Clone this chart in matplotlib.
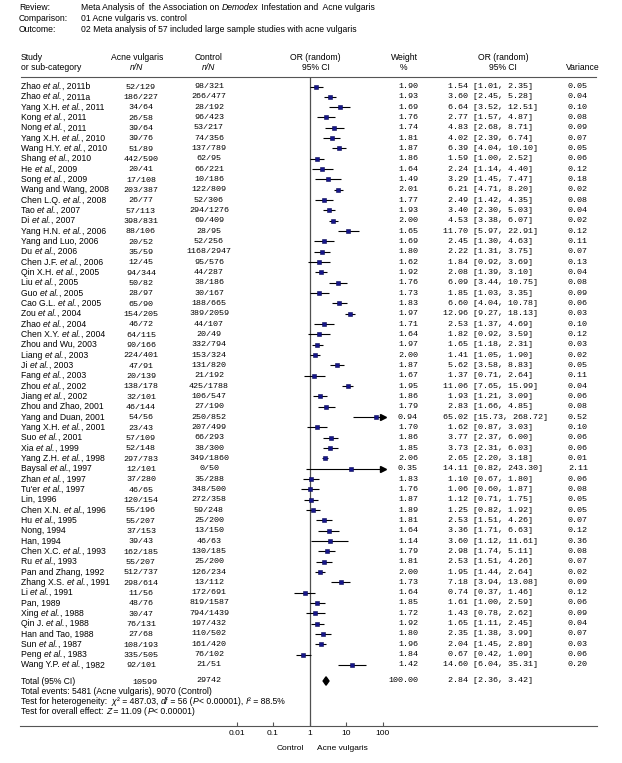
import matplotlib
matplotlib.use('Agg')
import matplotlib.pyplot as plt
from matplotlib.ticker import NullLocator

plt.rcParams['font.family'] = ['Liberation Sans', 'DejaVu Sans']

# ---------------- data ----------------
studies = [
    "Zhao et al., 2011b", "Zhao et al., 2011a", "Yang X.H. et al., 2011", "Kong et al., 2011",
    "Nong et al., 2011", "Yang X.H. et al., 2010", "Wang H.Y. et al., 2010", "Shang et al., 2010",
    "He et al., 2009", "Song et al., 2009", "Wang and Wang, 2008", "Chen L.Q. et al., 2008",
    "Tao et al., 2007", "Di et al., 2007", "Yang H.N. et al., 2006", "Yang and Luo, 2006",
    "Du et al., 2006", "Chen J.F. et al., 2006", "Qin X.H. et al., 2005", "Liu et al., 2005",
    "Guo et al., 2005", "Cao G.L. et al., 2005", "Zou et al., 2004", "Zhao et al., 2004",
    "Chen X.Y. et al., 2004", "Zhou and Wu, 2003", "Liang et al., 2003", "Ji et al., 2003",
    "Fang et al., 2003", "Zhou et al., 2002", "Jiang et al., 2002", "Zhou and Zhao, 2001",
    "Yang and Duan, 2001", "Yang X.H. et al., 2001", "Suo et al., 2001", "Xia et al., 1999",
    "Yang Z.H. et al., 1998", "Baysal et al., 1997", "Zhan et al., 1997", "Tu'er et al., 1997",
    "Lin, 1996", "Chen X.N. et al., 1996", "Hu et al., 1995", "Nong, 1994", "Han, 1994",
    "Chen X.C. et al., 1993", "Ru et al., 1993", "Pan and Zhang, 1992", "Zhang X.S. et al., 1991",
    "Li et al., 1991", "Pan, 1989", "Xing et al., 1988", "Qin J. et al., 1988",
    "Han and Tao, 1988", "Sun et al., 1987", "Peng et al., 1983", "Wang Y.P. et al., 1982",
]
acne_events = [52, 186, 34, 26, 39, 39, 51, 442, 20, 17, 203, 26, 57, 398, 88, 20, 35, 12, 94, 50,
               28, 65, 154, 46, 64, 90, 224, 47, 20, 138, 32, 46, 54, 23, 57, 52, 297, 12, 37, 46,
               120, 55, 55, 37, 39, 162, 55, 512, 298, 11, 48, 30, 76, 27, 108, 335, 92]
acne_total = [129, 227, 64, 58, 64, 76, 89, 590, 41, 108, 387, 77, 113, 831, 106, 52, 59, 45, 344, 82,
              97, 90, 205, 72, 115, 166, 401, 91, 139, 178, 101, 144, 56, 43, 109, 148, 783, 101, 280, 65,
              154, 196, 207, 153, 43, 185, 207, 737, 614, 56, 76, 47, 131, 68, 193, 505, 101]
ctrl_events = [98, 266, 28, 96, 53, 74, 137, 62, 66, 10, 122, 52, 294, 69, 28, 52, 1168, 95, 44, 38,
               30, 188, 389, 44, 20, 332, 153, 131, 21, 425, 106, 27, 250, 207, 66, 38, 349, 0, 35, 348,
               272, 59, 25, 13, 46, 130, 25, 126, 13, 172, 819, 794, 197, 110, 161, 76, 21]
ctrl_total = [321, 477, 192, 423, 217, 356, 789, 95, 221, 186, 809, 306, 1276, 409, 95, 256, 2947, 576, 287, 186,
              167, 665, 2059, 107, 49, 794, 324, 820, 192, 1788, 547, 190, 852, 499, 293, 300, 1860, 50, 288, 500,
              358, 248, 200, 150, 63, 185, 200, 234, 112, 691, 1587, 1439, 432, 502, 420, 102, 51]
weights = [1.90, 1.93, 1.69, 1.76, 1.74, 1.81, 1.87, 1.86, 1.64, 1.49, 2.01, 1.77, 1.93, 2.00, 1.65, 1.69,
           1.80, 1.62, 1.92, 1.76, 1.73, 1.83, 1.97, 1.71, 1.64, 1.97, 2.00, 1.87, 1.67, 1.95, 1.86, 1.79,
           0.94, 1.70, 1.86, 1.85, 2.06, 0.35, 1.83, 1.76, 1.87, 1.89, 1.81, 1.64, 1.14, 1.79, 1.81, 2.00,
           1.73, 1.64, 1.85, 1.72, 1.92, 1.80, 1.96, 1.84, 1.42]
odds = [1.54, 3.60, 6.64, 2.77, 4.83, 4.02, 6.39, 1.59, 2.24, 3.29, 6.21, 2.49, 3.40, 4.53, 11.70, 2.45,
        2.22, 1.84, 2.08, 6.09, 1.85, 6.60, 12.96, 2.53, 1.82, 1.65, 1.41, 5.62, 1.37, 11.06, 1.93, 2.83,
        65.02, 1.62, 3.77, 3.73, 2.65, 14.11, 1.10, 1.06, 1.12, 1.25, 2.53, 3.36, 3.60, 2.98, 2.53, 1.95,
        7.18, 0.74, 1.61, 1.43, 1.65, 2.35, 2.04, 0.67, 14.60]
ci_low = [1.01, 2.45, 3.52, 1.57, 2.68, 2.39, 4.04, 1.00, 1.14, 1.45, 4.71, 1.42, 2.30, 3.38, 5.97, 1.30,
          1.31, 0.92, 1.39, 3.44, 1.03, 4.04, 9.27, 1.37, 0.92, 1.18, 1.05, 3.58, 0.71, 7.65, 1.21, 1.66,
          15.73, 0.87, 2.37, 2.31, 2.20, 0.82, 0.67, 0.60, 0.71, 0.82, 1.51, 1.71, 1.12, 1.74, 1.51, 1.44,
          3.94, 0.37, 1.00, 0.78, 1.11, 1.38, 1.45, 0.42, 6.04]
ci_high = [2.35, 5.28, 12.51, 4.87, 8.71, 6.74, 10.10, 2.52, 4.40, 7.47, 8.20, 4.35, 5.03, 6.07, 22.91, 4.63,
           3.75, 3.69, 3.10, 10.75, 3.35, 10.78, 18.13, 4.69, 3.59, 2.31, 1.90, 8.83, 2.64, 15.99, 3.09, 4.85,
           268.72, 3.03, 6.00, 6.03, 3.18, 243.30, 1.80, 1.87, 1.75, 1.92, 4.26, 6.63, 11.61, 5.11, 4.26, 2.64,
           13.08, 1.46, 2.59, 2.62, 2.45, 3.99, 2.89, 1.09, 35.31]
variances = [0.05, 0.04, 0.10, 0.08, 0.09, 0.07, 0.05, 0.06, 0.12, 0.18, 0.02, 0.08, 0.04, 0.02, 0.12, 0.11,
             0.07, 0.13, 0.04, 0.08, 0.09, 0.06, 0.03, 0.10, 0.12, 0.03, 0.02, 0.05, 0.11, 0.04, 0.06, 0.08,
             0.52, 0.10, 0.06, 0.06, 0.01, 2.11, 0.06, 0.08, 0.05, 0.05, 0.07, 0.12, 0.36, 0.08, 0.07, 0.02,
             0.09, 0.12, 0.06, 0.09, 0.04, 0.07, 0.03, 0.06, 0.20]
total_acne = 10599
total_ctrl = 29742
total_weight = 100.00
total_or, total_lo, total_hi = 2.84, 2.36, 3.42
tick_vals = [0.01, 0.1, 1, 10, 100]
tick_labels = ["0.01", "0.1", "1", "10", "100"]

# ---------------- layout ----------------
W, H = 622, 763
fig = plt.figure(figsize=(W / 100, H / 100), dpi=100)
bg = fig.add_axes([0, 0, 1, 1])
bg.set_xlim(0, W)
bg.set_ylim(H, 0)
bg.axis('off')

SANS = 6.2
MONO = 6.0
mono = ['Liberation Mono', 'DejaVu Sans Mono']

row0, step = 86.5, 10.33
sep_y, axis_y = 77.0, 725.5
x_one, decade = 309.5, 36.5
x_left = x_one - 2 * decade
x_right = x_one + 2 * decade


def rich(x, y, parts, fs=SANS):
    """Draw a line made of (text, italic) parts, chained left to right."""
    prev = None
    for txt, it in parts:
        if not txt:
            continue
        style = 'italic' if it else 'normal'
        if prev is None:
            prev = bg.text(x, y, txt, fontsize=fs, style=style, va='center', ha='left')
        else:
            prev = bg.annotate(txt, xy=(1, 0), xycoords=prev, xytext=(0.15, 0),
                               textcoords='offset points', fontsize=fs, style=style,
                               va='bottom', ha='left')
    return prev


def name_parts(s):
    if "et al." in s:
        a, b = s.split("et al.", 1)
        return [(a, False), ("et al.", True), (b, False)]
    return [(s, False)]


# title block
rich(19, 8, [("Review:", False)])
rich(81, 8, [("Meta Analysis of  the Association on ", False), ("Demodex", True),
             (" Infestation and  Acne vulgaris", False)])
rich(19, 18.5, [("Comparison:", False)])
rich(81, 18.5, [("01 Acne vulgaris vs. control", False)])
rich(19, 29, [("Outcome:", False)])
rich(81, 29, [("02 Meta analysis of 57 included large sample studies with acne vulgaris", False)])

# column headers
hy1, hy2 = 57, 67.5
bg.text(21, hy1, "Study", fontsize=SANS, va='center')
bg.text(21, hy2, "or sub-category", fontsize=SANS, va='center')
cx_acne, cx_ctrl = 141, 209
bg.text(cx_acne - 4, hy1, "Acne vulgaris", fontsize=SANS, va='center', ha='center')
bg.text(cx_acne - 4, hy2, "n/N", fontsize=SANS, style='italic', va='center', ha='center')
bg.text(cx_ctrl, hy1, "Control", fontsize=SANS, va='center', ha='center')
bg.text(cx_ctrl, hy2, "n/N", fontsize=SANS, style='italic', va='center', ha='center')
bg.text(315, hy1, "OR (random)", fontsize=SANS, va='center', ha='center')
bg.text(316, hy2, "95% CI", fontsize=SANS, va='center', ha='center')
bg.text(404, hy1, "Weight", fontsize=SANS, va='center', ha='center')
bg.text(404, hy2, "%", fontsize=SANS, va='center', ha='center')
bg.text(503, hy1, "OR (random)", fontsize=SANS, va='center', ha='center')
bg.text(503, hy2, "95% CI", fontsize=SANS, va='center', ha='center')
bg.text(583, hy2, "Variance", fontsize=SANS, va='center', ha='center')

bg.plot([21, 596], [sep_y, sep_y], color='#555555', lw=0.8)
bg.plot([20, 597], [axis_y, axis_y], color='#555555', lw=0.8)

# rows (text)
n = len(studies)
for i in range(n):
    y = row0 + i * step
    rich(21, y, name_parts(studies[i]))
    bg.text(cx_acne, y + 0.8, f"{acne_events[i]}/{acne_total[i]}", fontsize=MONO, family=mono, va='center', ha='center')
    bg.text(cx_ctrl, y, f"{ctrl_events[i]}/{ctrl_total[i]}", fontsize=MONO, family=mono, va='center', ha='center')
    bg.text(418, y, f"{weights[i]:.2f}", fontsize=MONO, family=mono, va='center', ha='right')
    bg.text(443, y, f"{odds[i]:5.2f} [{ci_low[i]:.2f}, {ci_high[i]:.2f}]", fontsize=MONO, family=mono, va='center', ha='left')
    bg.text(588, y, f"{variances[i]:.2f}", fontsize=MONO, family=mono, va='center', ha='right')

# footer text
ty = 681
bg.text(21, ty, "Total (95% CI)", fontsize=SANS, va='center')
bg.text(cx_acne + 4, ty + 1, f"{total_acne}", fontsize=MONO, family=mono, va='center', ha='center')
bg.text(cx_ctrl, ty, f"{total_ctrl}", fontsize=MONO, family=mono, va='center', ha='center')
bg.text(418, ty, f"{total_weight:.2f}", fontsize=MONO, family=mono, va='center', ha='right')
bg.text(443, ty, f"{total_or:5.2f} [{total_lo:.2f}, {total_hi:.2f}]", fontsize=MONO, family=mono, va='center', ha='left')
rich(21, 691, [(f"Total events: {sum(acne_events)} (Acne vulgaris), {sum(ctrl_events)} (Control)", False)])
rich(21, 701, [("Test for heterogeneity:  ", False), ("\u03c7", True), ("\u00b2 = 487.03, ", False),
               ("df", True), (" = 56 (", False), ("P", True), ("< 0.00001), ", False),
               ("I", True), ("\u00b2 = 88.5%", False)])
rich(21, 711, [("Test for overall effect: ", False), ("Z", True), (" = 11.09 (", False),
               ("P", True), ("< 0.00001)", False)])

bg.text(304, 749, "Control", fontsize=6, va='center', ha='right')
bg.text(317, 749, "Acne vulgaris", fontsize=6, va='center', ha='left')

# ---------------- forest axes ----------------
fa = fig.add_axes([x_left / W, (H - axis_y) / H, (x_right - x_left) / W, (axis_y - sep_y) / H])
fa.set_xscale('log')
fa.set_xlim(tick_vals[0], tick_vals[-1])
y_bot = (axis_y - row0) / step
y_top = (sep_y - row0) / step
fa.set_ylim(y_bot, y_top)
fa.patch.set_alpha(0)
for s in fa.spines.values():
    s.set_visible(False)
fa.set_xticks(tick_vals)
fa.set_xticklabels(tick_labels)
fa.xaxis.set_minor_locator(NullLocator())
fa.tick_params(axis='x', which='major', direction='in', length=3, width=0.8, pad=3.5,
               labelsize=6, color='#555555')
fa.set_yticks([])
fa.axvline(1, color='#505050', lw=0.9, zorder=1)

xmax = tick_vals[-1]
sq_color = '#16168a'
for i in range(n):
    hi = min(ci_high[i], xmax)
    fa.plot([ci_low[i], hi], [i, i], color='black', lw=0.8, solid_capstyle='butt', zorder=2, clip_on=False)
    if ci_high[i] > xmax:
        fa.plot([xmax], [i], marker='>', ms=4, color='black', zorder=3, clip_on=False)
    sq, = fa.plot([odds[i]], [i], marker='s', ms=2.9 + 0.3 * weights[i], color=sq_color,
                  markeredgecolor='#0a0a55', markeredgewidth=0.4, zorder=4, clip_on=False)
    sq.set_snap(False)

yt = (ty - row0) / step
h = 4.2 / step
fa.fill([total_lo, total_or, total_hi, total_or], [yt, yt - h, yt, yt + h], color='black', zorder=4)

fig.savefig('out.png', dpi=100)
